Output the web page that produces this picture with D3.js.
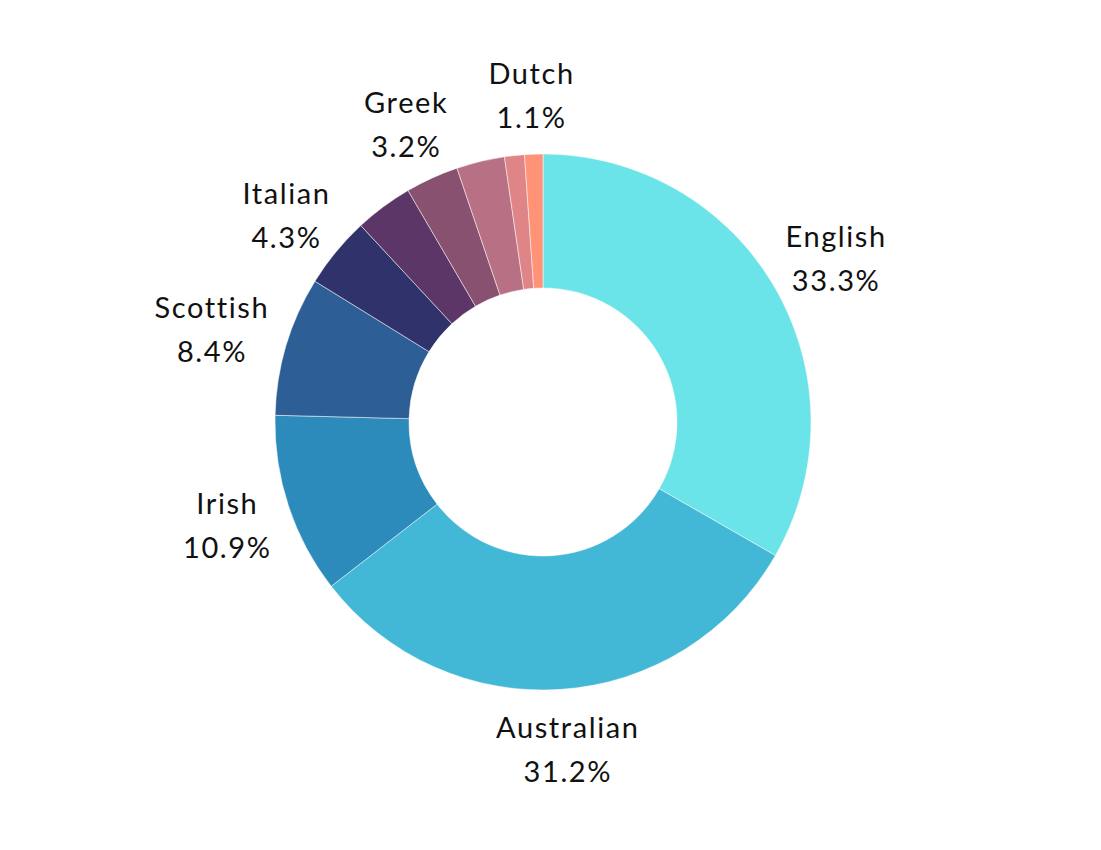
<!DOCTYPE html>
<html>
<head>
<meta charset="utf-8">
<script src="https://cdn.jsdelivr.net/npm/d3@7"></script>
<style>
  body { margin: 0; background: #fff; }
  text { font-family: Lato, "Open Sans", sans-serif; fill: #111; }
</style>
</head>
<body>
<script>
var names = ["English", "Australian", "Irish", "Scottish", "Italian", "German", "Greek", "Chinese", "Indian", "Dutch"];
var values = [33.3, 31.2, 10.9, 8.4, 4.3, 3.5, 3.2, 2.9, 1.2, 1.1];
var showLabel = [true, true, true, true, true, false, true, false, false, true];
var colorList = ["#6ae4e8", "#42b7d6", "#2c8bba", "#2d5e96", "#30336b", "#5c3666", "#87516f", "#b87184", "#e08587", "#ff9277"];

var width = 1101;
var height = 850;
var radius = 268;
var cx = 543, cy = 422;

var details = names.map(function(n, i){
  return {name: n, number: values[i], show: showLabel[i]};
});

var colors = d3.scaleOrdinal().domain(names).range(colorList);

var svg = d3.select("body").append("svg")
  .attr("width", width)
  .attr("height", height);

var data = d3.pie().sort(null).value(function(d){ return d.number; })(details);

var arc = d3.arc()
  .innerRadius(radius / 2)
  .outerRadius(radius);

var g = svg.append("g")
  .attr("transform", "translate(" + cx + "," + cy + ")");

g.selectAll("path").data(data)
  .enter().append("path")
  .attr("d", arc)
  .attr("fill", function(d){ return colors(d.data.name); })
  .attr("stroke", "#fff")
  .attr("stroke-width", 0.5);

// labels: box pushed outward from a point just past the outer edge
var lineGap = 44;
var labels = g.selectAll("g.label").data(data.filter(function(d){ return d.data.show; }))
  .enter().append("g").attr("class", "label");

labels.each(function(d){
  var sel = d3.select(this);
  var t = sel.append("text")
    .attr("text-anchor", "middle")
    .style("font-size", "29px")
    .style("letter-spacing", "1.6px");
  t.append("tspan").attr("x", 0).attr("y", 0).text(d.data.name);
  t.append("tspan").attr("x", 0).attr("y", lineGap).text(d3.format(".1f")(d.data.number) + "%");

  var box = t.node().getBBox();
  var a = (d.startAngle + d.endAngle) / 2;
  var r = radius + 20;
  var px = Math.sin(a) * r, py = -Math.cos(a) * r;
  var bx = px + Math.sin(a) * box.width / 2;
  var by = py - Math.cos(a) * box.height / 2;
  // center the text box on (bx, by)
  var dy = by - (box.y + box.height / 2);
  sel.attr("transform", "translate(" + bx + "," + dy + ")");
});
</script>
</body>
</html>
